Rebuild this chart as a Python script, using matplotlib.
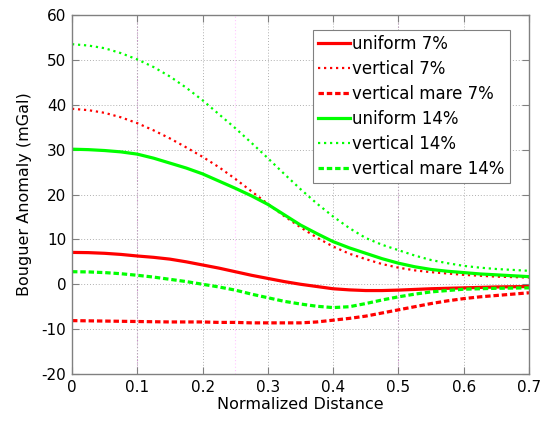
import matplotlib

matplotlib.use("Agg")
import matplotlib.pyplot as plt

plt.rcParams["font.family"] = ["DejaVu Sans"]
plt.rcParams["axes.unicode_minus"] = False

# values every 0.025 of normalized distance
distance = [0.0, 0.025, 0.05, 0.075, 0.1, 0.125, 0.15, 0.175, 0.2, 0.225,
            0.25, 0.275, 0.3, 0.325, 0.35, 0.375, 0.4, 0.425, 0.45, 0.475,
            0.5, 0.525, 0.55, 0.575, 0.6, 0.625, 0.65, 0.675, 0.7]
uniform_7 = [7.1, 7.05, 6.9, 6.65, 6.3, 6.0, 5.6, 5.0, 4.3, 3.6,
             2.8, 2.0, 1.3, 0.6, 0.0, -0.5, -1.0, -1.25, -1.4, -1.4,
             -1.3, -1.15, -1.0, -0.9, -0.8, -0.7, -0.6, -0.55, -0.5]
vertical_7 = [39.1, 38.8, 38.2, 37.2, 35.9, 34.3, 32.5, 30.5, 28.4, 26.1,
              23.5, 20.7, 17.9, 15.2, 12.7, 10.4, 8.4, 6.8, 5.6, 4.5,
              3.7, 3.1, 2.7, 2.4, 2.1, 1.9, 1.7, 1.6, 1.5]
mare_7 = [-8.1, -8.15, -8.2, -8.25, -8.3, -8.35, -8.4, -8.4, -8.4, -8.5,
          -8.5, -8.6, -8.6, -8.6, -8.6, -8.4, -8.0, -7.6, -7.1, -6.4,
          -5.7, -5.0, -4.3, -3.7, -3.2, -2.8, -2.5, -2.2, -1.9]
uniform_14 = [30.1, 30.0, 29.8, 29.5, 29.0, 28.1, 27.0, 25.9, 24.6, 23.0,
              21.4, 19.7, 17.8, 15.5, 13.2, 11.3, 9.5, 8.1, 6.9, 5.7,
              4.7, 3.9, 3.3, 2.9, 2.6, 2.3, 2.1, 1.9, 1.7]
vertical_14 = [53.5, 53.2, 52.6, 51.5, 50.1, 48.4, 46.3, 43.8, 41.0, 37.9,
               34.8, 31.5, 28.1, 24.6, 21.2, 18.0, 15.1, 12.5, 10.3, 8.8,
               7.6, 6.4, 5.4, 4.7, 4.1, 3.7, 3.4, 3.2, 3.0]
mare_14 = [2.8, 2.75, 2.6, 2.35, 2.0, 1.6, 1.1, 0.6, 0.0, -0.6,
           -1.3, -2.2, -3.0, -3.8, -4.4, -4.9, -5.2, -5.0, -4.3, -3.5,
           -2.8, -2.2, -1.7, -1.4, -1.1, -1.0, -0.9, -0.85, -0.8]

x_ticks = [0, 0.1, 0.2, 0.3, 0.4, 0.5, 0.6, 0.7]
x_labels = ["0", "0.1", "0.2", "0.3", "0.4", "0.5", "0.6", "0.7"]
y_ticks = [-20, -10, 0, 10, 20, 30, 40, 50, 60]

RED = "#ff0000"
GREEN = "#00ff00"
DOT = (0, (1, 1.7))
DASH = (0, (1.7, 0.9))

fig = plt.figure(figsize=(5.43, 4.23), dpi=100)
ax = fig.add_axes([0.1326, 0.1158, 0.8416, 0.8487])

ax.plot(distance, uniform_7, color=RED, lw=2.3, label="uniform 7%")
ax.plot(distance, vertical_7, color=RED, lw=1.6, ls=DOT, label="vertical 7%")
ax.plot(distance, mare_7, color=RED, lw=2.3, ls=DASH, label="vertical mare 7%")
ax.plot(distance, uniform_14, color=GREEN, lw=2.3, label="uniform 14%")
ax.plot(distance, vertical_14, color=GREEN, lw=1.6, ls=DOT, label="vertical 14%")
ax.plot(distance, mare_14, color=GREEN, lw=2.3, ls=DASH, label="vertical mare 14%")

ax.set_xlim(0, 0.7)
ax.set_ylim(-20, 60)
ax.set_xticks(x_ticks)
ax.set_xticklabels(x_labels)
ax.set_yticks(y_ticks)
ax.grid(True, color="#b0b0b0", ls=(0, (1, 2)), lw=0.7)
ax.set_axisbelow(True)
# the reference has a few tinted grid lines
for xv, c in [(0.1, "#c78ac7"), (0.5, "#c78ac7"), (0.25, "#ffc8ff")]:
    ax.axvline(xv, color=c, ls=(0, (1, 2)), lw=0.8, zorder=0.5)

ax.tick_params(direction="in", top=True, right=True, length=5, width=0.8,
               color="#808080", labelsize=11, pad=4)
for s in ax.spines.values():
    s.set_color("#808080")
    s.set_linewidth(1.0)

ax.set_xlabel("Normalized Distance", fontsize=11.5, labelpad=2)
ax.set_ylabel("Bouguer Anomaly (mGal)", fontsize=11.5, labelpad=7)

leg = ax.legend(loc="upper right", bbox_to_anchor=(0.958, 0.958), borderaxespad=0,
                fontsize=12, handlelength=1.9, handletextpad=0.15,
                labelspacing=0.42, fancybox=False, framealpha=1, borderpad=0.3)
leg.get_frame().set_edgecolor("#808080")
leg.get_frame().set_linewidth(0.8)

fig.savefig("out.png", dpi=100)
